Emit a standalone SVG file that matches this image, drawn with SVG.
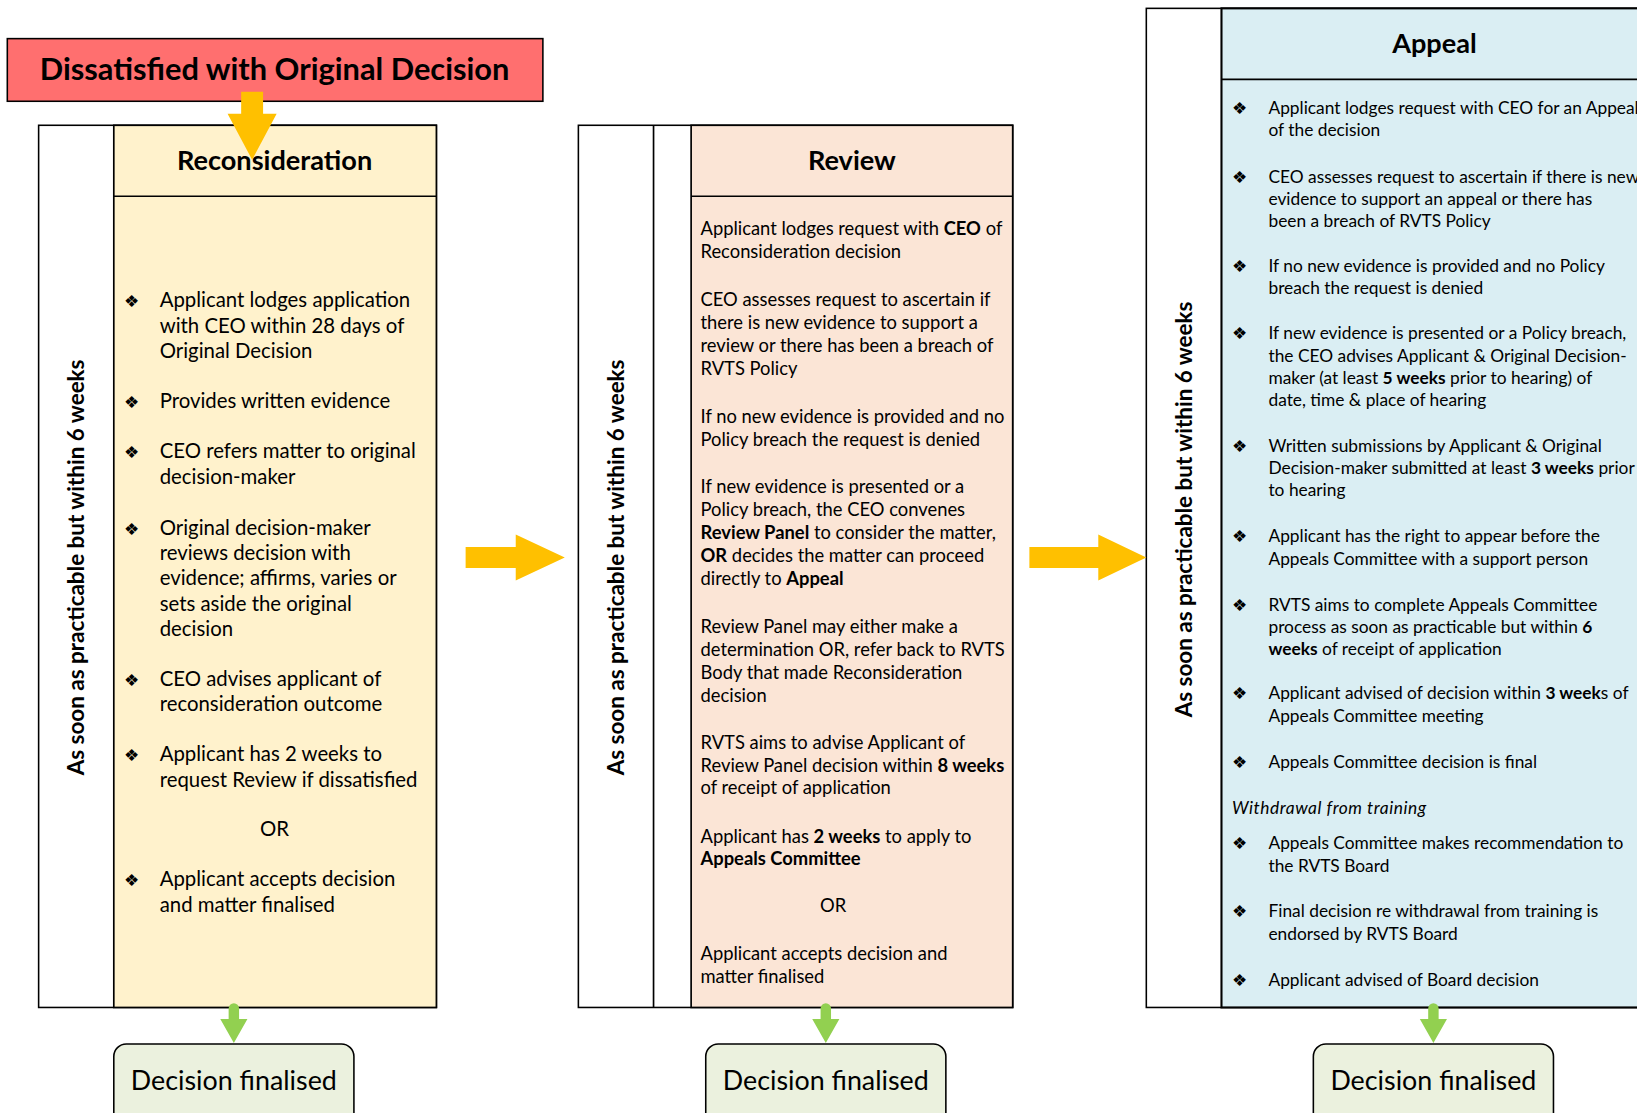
<svg xmlns="http://www.w3.org/2000/svg" width="1637" height="1113" viewBox="0 0 1637 1113">
<style>
text{font-family:Lato,"Liberation Sans",sans-serif;fill:#000}
.frame{fill:#fff;stroke:#000;stroke-width:1.5}
.line{stroke:#000;stroke-width:1.6;fill:none}
.vt{font-size:21.5px;font-weight:bold;text-anchor:middle}
.hd{font-size:26px;font-weight:bold;text-anchor:middle}
.b1{font-size:19.5px}
.b2{font-size:17.6px}
.b3{font-size:16.6px}
.bul{font-family:"DejaVu Sans",sans-serif;font-size:16px}
.fin{fill:#EBF1DE;stroke:#000;stroke-width:1.5}
.fint{font-size:25.7px;text-anchor:middle}
.ya{fill:#FFC000}
.ga{fill:#92D050}
</style>
<rect x="0" y="0" width="1637" height="1113" fill="#fff"/>
<g transform="scale(1.0440)">
<g id="start">
<rect x="7" y="37" width="513" height="60" fill="#FF6F6F" stroke="#000" stroke-width="1.5"/>
<text x="263" y="77" font-size="29.5" font-weight="bold" text-anchor="middle">Dissatisfied with Original Decision</text>
</g>
<g id="reconsideration">
<rect class="frame" x="37" y="120" width="381" height="845"/>
<rect x="109" y="120" width="309" height="845" fill="#FFF2CC" stroke="#000" stroke-width="1.6"/>
<line class="line" x1="109" y1="188" x2="418" y2="188"/>
<text class="vt" transform="translate(80,543.5) rotate(-90)">As soon as practicable but within 6 weeks</text>
<text class="hd" x="263" y="163">Reconsideration</text>
<g class="bul"><text x="119" y="294">❖</text><text x="119" y="391">❖</text><text x="119" y="439">❖</text><text x="119" y="512">❖</text><text x="119" y="657">❖</text><text x="119" y="729">❖</text><text x="119" y="849">❖</text></g>
<g class="b1">
<text x="153" y="294">Applicant lodges application</text>
<text x="153" y="318.5">with CEO within 28 days of</text>
<text x="153" y="343">Original Decision</text>
<text x="153" y="391">Provides written evidence</text>
<text x="153" y="439">CEO refers matter to original</text>
<text x="153" y="464">decision-maker</text>
<text x="153" y="512">Original decision-maker</text>
<text x="153" y="536">reviews decision with</text>
<text x="153" y="560.5">evidence; affirms, varies or</text>
<text x="153" y="585">sets aside the original</text>
<text x="153" y="609">decision</text>
<text x="153" y="657">CEO advises applicant of</text>
<text x="153" y="681.5">reconsideration outcome</text>
<text x="153" y="729">Applicant has 2 weeks to</text>
<text x="153" y="754">request Review if dissatisfied</text>
<text x="263" y="801" text-anchor="middle">OR</text>
<text x="153" y="849">Applicant accepts decision</text>
<text x="153" y="874">and matter finalised</text>
</g>
</g>
<g id="review">
<rect class="frame" x="554" y="120" width="416" height="845"/>
<line class="line" x1="626" y1="120" x2="626" y2="965"/>
<rect x="662" y="120" width="308" height="845" fill="#FBE5D6" stroke="#000" stroke-width="1.6"/>
<line class="line" x1="662" y1="188" x2="970" y2="188"/>
<text class="vt" transform="translate(598,543.5) rotate(-90)">As soon as practicable but within 6 weeks</text>
<text class="hd" x="816" y="163">Review</text>
<g class="b2">
<text x="671" y="225">Applicant lodges request with <tspan font-weight="bold">CEO</tspan> of</text>
<text x="671" y="247">Reconsideration decision</text>
<text x="671" y="293">CEO assesses request to ascertain if</text>
<text x="671" y="315">there is new evidence to support a</text>
<text x="671" y="337">review or there has been a breach of</text>
<text x="671" y="359">RVTS Policy</text>
<text x="671" y="405">If no new evidence is provided and no</text>
<text x="671" y="427">Policy breach the request is denied</text>
<text x="671" y="472">If new evidence is presented or a</text>
<text x="671" y="494">Policy breach, the CEO convenes</text>
<text x="671" y="516"><tspan font-weight="bold">Review Panel</tspan> to consider the matter,</text>
<text x="671" y="538"><tspan font-weight="bold">OR</tspan> decides the matter can proceed</text>
<text x="671" y="560">directly to <tspan font-weight="bold">Appeal</tspan></text>
<text x="671" y="606">Review Panel may either make a</text>
<text x="671" y="628">determination OR, refer back to RVTS</text>
<text x="671" y="650">Body that made Reconsideration</text>
<text x="671" y="672">decision</text>
<text x="671" y="717">RVTS aims to advise Applicant of</text>
<text x="671" y="739">Review Panel decision within <tspan font-weight="bold">8 weeks</tspan></text>
<text x="671" y="761">of receipt of application</text>
<text x="671" y="807">Applicant has <tspan font-weight="bold">2 weeks</tspan> to apply to</text>
<text x="671" y="829" font-weight="bold">Appeals Committee</text>
<text x="798" y="874" text-anchor="middle">OR</text>
<text x="671" y="920">Applicant accepts decision and</text>
<text x="671" y="942">matter finalised</text>
</g>
</g>
<g id="appeal">
<rect class="frame" x="1098" y="8" width="520" height="957"/>
<rect x="1170" y="8" width="448" height="957" fill="#DAEEF3" stroke="#000" stroke-width="2"/>
<line class="line" x1="1170" y1="76" x2="1618" y2="76"/>
<text class="vt" transform="translate(1142,488) rotate(-90)">As soon as practicable but within 6 weeks</text>
<text class="hd" x="1374" y="51">Appeal</text>
<g class="bul"><text x="1180" y="109">❖</text><text x="1180" y="175">❖</text><text x="1180" y="261">❖</text><text x="1180" y="325">❖</text><text x="1180" y="433">❖</text><text x="1180" y="519">❖</text><text x="1180" y="585">❖</text><text x="1180" y="670">❖</text><text x="1180" y="736">❖</text><text x="1180" y="813">❖</text><text x="1180" y="878">❖</text><text x="1180" y="944">❖</text></g>
<g class="b3">
<text x="1215" y="109">Applicant lodges request with CEO for an Appeal</text>
<text x="1215" y="130">of the decision</text>
<text x="1215" y="175">CEO assesses request to ascertain if there is new</text>
<text x="1215" y="196">evidence to support an appeal or there has</text>
<text x="1215" y="217">been a breach of RVTS Policy</text>
<text x="1215" y="261">If no new evidence is provided and no Policy</text>
<text x="1215" y="282">breach the request is denied</text>
<text x="1215" y="325">If new evidence is presented or a Policy breach,</text>
<text x="1215" y="347">the CEO advises Applicant &amp; Original Decision-</text>
<text x="1215" y="368">maker (at least <tspan font-weight="bold">5 weeks</tspan> prior to hearing) of</text>
<text x="1215" y="389">date, time &amp; place of hearing</text>
<text x="1215" y="433">Written submissions by Applicant &amp; Original</text>
<text x="1215" y="454">Decision-maker submitted at least <tspan font-weight="bold">3 weeks</tspan> prior</text>
<text x="1215" y="475">to hearing</text>
<text x="1215" y="519">Applicant has the right to appear before the</text>
<text x="1215" y="541">Appeals Committee with a support person</text>
<text x="1215" y="585">RVTS aims to complete Appeals Committee</text>
<text x="1215" y="606">process as soon as practicable but within <tspan font-weight="bold">6</tspan></text>
<text x="1215" y="627"><tspan font-weight="bold">weeks</tspan> of receipt of application</text>
<text x="1215" y="670">Applicant advised of decision within <tspan font-weight="bold">3 week</tspan>s of</text>
<text x="1215" y="692">Appeals Committee meeting</text>
<text x="1215" y="736">Appeals Committee decision is final</text>
<text x="1180" y="780" font-style="italic" textLength="186" lengthAdjust="spacing">Withdrawal from training</text>
<text x="1215" y="813">Appeals Committee makes recommendation to</text>
<text x="1215" y="835">the RVTS Board</text>
<text x="1215" y="878">Final decision re withdrawal from training is</text>
<text x="1215" y="900">endorsed by RVTS Board</text>
<text x="1215" y="944">Applicant advised of Board decision</text>
</g>
</g>
<g id="final1"><rect class="fin" x="109" y="1000" width="230" height="90" rx="12"/><text class="fint" x="224" y="1044">Decision finalised</text></g>
<g id="final2"><rect class="fin" x="676" y="1000" width="230" height="90" rx="12"/><text class="fint" x="791" y="1044">Decision finalised</text></g>
<g id="final3"><rect class="fin" x="1258" y="1000" width="230" height="90" rx="12"/><text class="fint" x="1373" y="1044">Decision finalised</text></g>
<g id="connectors">
<polygon class="ya" points="231,88 252,88 252,109 265,109 241.5,153 218,109 231,109"/>
<polygon class="ya" points="446,524 494,524 494,512 541,534 494,556 494,544 446,544"/>
<polygon class="ya" points="986,524 1052,524 1052,512 1098,534 1052,556 1052,544 986,544"/>
<path class="ga" d="M219,976 V966 a5,5 0 0 1 10,0 V976 H237 L224,999 L211,976 Z"/>
<path class="ga" d="M786,976 V966 a5,5 0 0 1 10,0 V976 H804 L791,999 L778,976 Z"/>
<path class="ga" d="M1368,976 V966 a5,5 0 0 1 10,0 V976 H1386 L1373,999 L1360,976 Z"/>
</g>
</g>
</svg>
